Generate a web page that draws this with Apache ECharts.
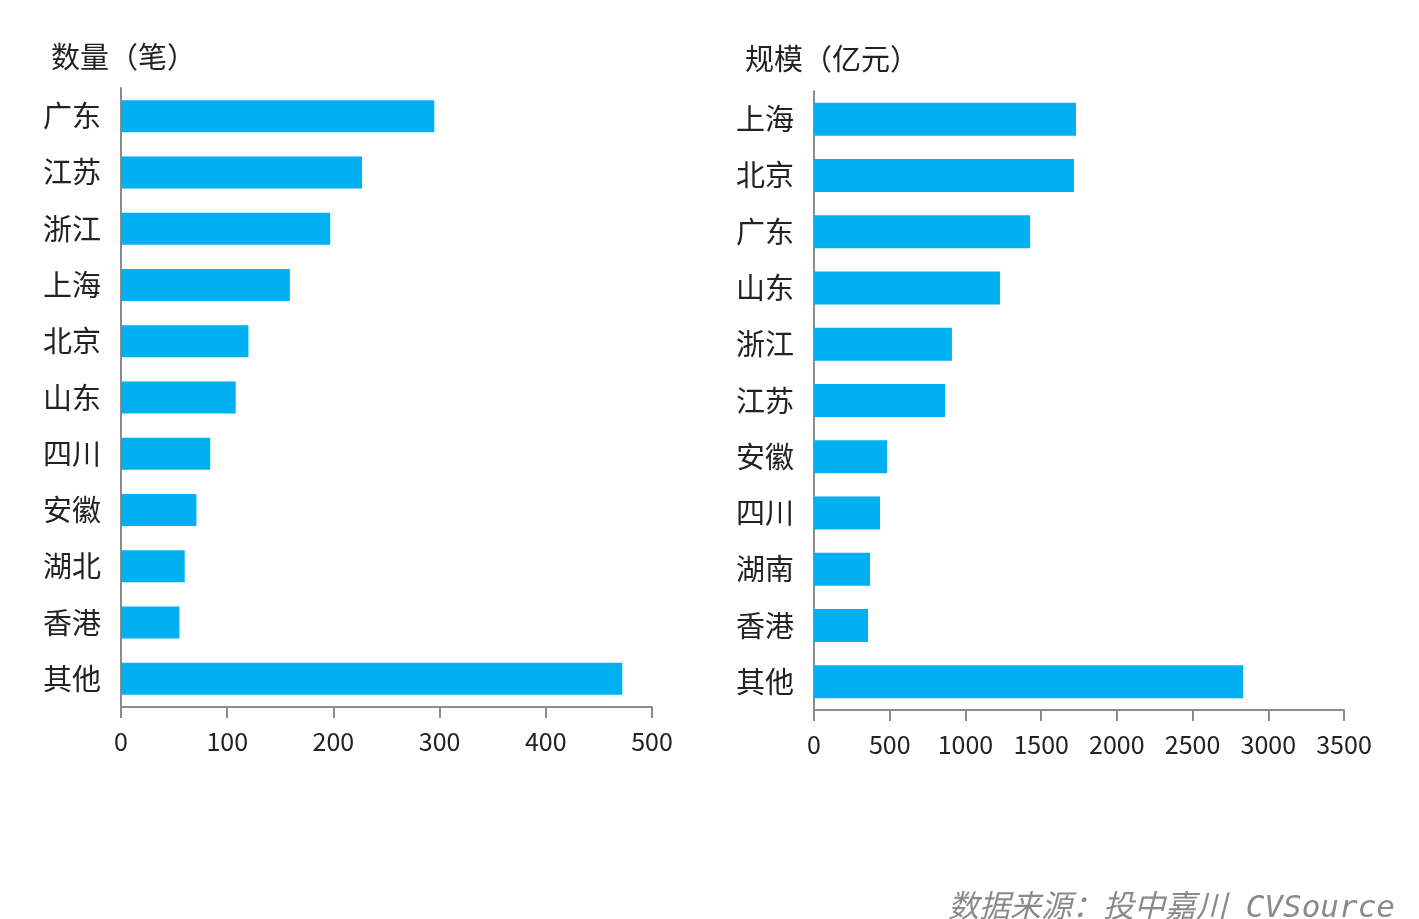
<!DOCTYPE html>
<html><head><meta charset="utf-8">
<script src="https://cdn.jsdelivr.net/npm/echarts@6/dist/echarts.min.js"></script>
<style>html,body{margin:0;padding:0;background:#fff;}#c{width:1419px;height:919px;}</style>
</head><body><div id="c"></div>
<script>
const leftTitle = '数量（笔）';
const rightTitle = '规模（亿元）';
const sourceText = '数据来源：投中嘉川 CVSource';
const leftCategories = ['广东','江苏','浙江','上海','北京','山东','四川','安徽','湖北','香港','其他'];
const leftValues = [295, 227, 197, 159, 120, 108, 84, 71, 60, 55, 472];
const rightCategories = ['上海','北京','广东','山东','浙江','江苏','安徽','四川','湖南','香港','其他'];
const rightValues = [1730, 1717, 1427, 1228, 911, 865, 482, 436, 370, 357, 2833];

const font = '"Noto Sans CJK SC", "Noto Sans", sans-serif';
const barColor = '#00B0F0';
const axisGray = '#8c8c8c';

function xAxis(idx, max, interval) {
  return {
    type: 'value', gridIndex: idx, min: 0, max: max, interval: interval,
    splitLine: {show: false},
    axisLine: {show: true, lineStyle: {color: axisGray, width: 2}},
    axisTick: {show: true, length: 11, lineStyle: {color: axisGray, width: 2}},
    axisLabel: {color: '#222', fontSize: 25, fontFamily: font, margin: 22,
      formatter: function (v) { return String(v); }}
  };
}
function yAxis(idx, cats) {
  return {
    type: 'category', gridIndex: idx, data: cats, inverse: true,
    axisLine: {show: true, lineStyle: {color: axisGray, width: 2}},
    axisTick: {show: false},
    axisLabel: {color: '#222', fontSize: 29, fontFamily: font, margin: 20}
  };
}
const chart = echarts.init(document.getElementById('c'), null, {renderer: 'canvas'});
chart.setOption({
  backgroundColor: '#fff',
  animation: false,
  title: [
    {text: leftTitle, left: 46, top: 37, textStyle: {fontSize: 29, fontWeight: 'normal', color: '#222', fontFamily: font}},
    {text: rightTitle, left: 740, top: 39, textStyle: {fontSize: 29, fontWeight: 'normal', color: '#222', fontFamily: font}},
    {text: sourceText, left: 943, top: 888, textStyle: {fontSize: 31, fontWeight: 'normal', fontStyle: 'italic', color: '#8a8a8a', fontFamily: '"DejaVu Sans Mono", "Noto Sans CJK SC", monospace'}}
  ],
  grid: [
    {left: 121, width: 531, top: 88, height: 619},
    {left: 814, width: 530, top: 91, height: 619}
  ],
  xAxis: [xAxis(0, 500, 100), xAxis(1, 3500, 500)],
  yAxis: [yAxis(0, leftCategories), yAxis(1, rightCategories)],
  series: [
    {type: 'bar', xAxisIndex: 0, yAxisIndex: 0, data: leftValues, barWidth: 32, itemStyle: {color: barColor}},
    {type: 'bar', xAxisIndex: 1, yAxisIndex: 1, data: rightValues, barWidth: 33, itemStyle: {color: barColor}}
  ]
});
</script>
</body></html>
